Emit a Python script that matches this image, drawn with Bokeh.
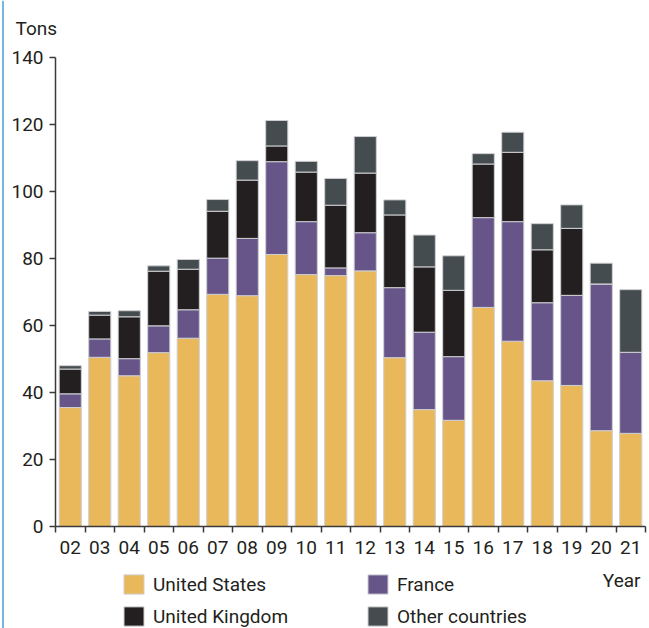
from bokeh.plotting import figure
from bokeh.models import (ColumnDataSource, FixedTicker, Range1d, Legend,
                          LegendItem, Label, Span)
from bokeh.embed import file_html
from bokeh.resources import INLINE

years = ["02", "03", "04", "05", "06", "07", "08", "09", "10", "11",
         "12", "13", "14", "15", "16", "17", "18", "19", "20", "21"]
united_states = [35.5, 50.5, 45.0, 51.9, 56.2, 69.3, 68.9, 81.2, 75.2, 74.9,
                 76.3, 50.4, 34.9, 31.7, 65.4, 55.3, 43.5, 42.1, 28.6, 27.8]
france = [4.1, 5.5, 5.1, 8.0, 8.5, 10.8, 17.1, 27.7, 15.8, 2.3,
          11.4, 20.9, 23.1, 19.0, 26.8, 35.7, 23.3, 26.9, 43.8, 24.2]
united_kingdom = [7.4, 7.1, 12.5, 16.3, 12.1, 14.0, 17.4, 4.7, 14.8, 18.7,
                  17.8, 21.7, 19.5, 19.8, 16.0, 20.7, 15.8, 20.0, 0.0, 0.0]
other_countries = [1.0, 1.1, 1.8, 1.6, 2.9, 3.5, 5.8, 7.6, 3.2, 8.0,
                   10.9, 4.5, 9.5, 10.3, 3.1, 6.0, 7.8, 7.0, 6.2, 18.7]
series_names = ["United States", "France", "United Kingdom", "Other countries"]
y_ticks = [0, 20, 40, 60, 80, 100, 120, 140]

colors = ["#E8B85B", "#67558A", "#231F20", "#444C4F"]
FONT = "Roboto"
FS = "19px"
TXT = "#231F20"
AX = "#3a3a3a"

W, H = 649, 628
# plot area in canvas pixels
left_px, right_px, top_px, bottom_px = 55, 645, 57, 526
n = len(years)
ymax = 140
xu = (right_px - left_px) / n          # px per category
yu = (bottom_px - top_px) / ymax       # px per ton

xs = [i + 0.5 for i in range(n)]
source = ColumnDataSource(dict(x=xs, us=united_states, fr=france,
                               uk=united_kingdom, ot=other_countries))

p = figure(width=W, height=H,
           x_range=Range1d(-left_px / xu, n + (W - right_px) / xu),
           y_range=Range1d(-(H - bottom_px) / yu, ymax + top_px / yu),
           output_backend="svg", toolbar_location=None,
           min_border=0)
p.outline_line_color = None
p.grid.visible = False
p.background_fill_color = "white"
p.border_fill_color = "white"

rs = p.vbar_stack(["us", "fr", "uk", "ot"], x="x", width=0.75, color=colors,
                  line_color="#cfcfd2", line_width=1, source=source)

# x axis
xa = p.xaxis[0]
xa.fixed_location = 0
xa.bounds = (0, n)
xa.ticker = FixedTicker(ticks=xs, minor_ticks=list(range(n + 1)))
xa.major_label_overrides = {x: y for x, y in zip(xs, years)}
xa.major_tick_out = 0
xa.major_tick_in = 0
xa.minor_tick_out = 6
xa.minor_tick_in = 0
xa.minor_tick_line_color = AX
xa.minor_tick_line_width = 1.5
xa.axis_line_color = AX
xa.axis_line_width = 1.5
xa.major_label_text_font = FONT
xa.major_label_text_font_size = FS
xa.major_label_text_color = TXT
xa.major_label_standoff = 8

# y axis
ya = p.yaxis[0]
ya.fixed_location = 0
ya.bounds = (0, ymax)
ya.ticker = FixedTicker(ticks=y_ticks)
ya.minor_tick_line_color = None
ya.major_tick_out = 6
ya.major_tick_in = 0
ya.major_tick_line_color = AX
ya.major_tick_line_width = 1.5
ya.axis_line_color = AX
ya.axis_line_width = 1.5
ya.major_label_text_font = FONT
ya.major_label_text_font_size = FS
ya.major_label_text_color = TXT
ya.major_label_standoff = 6

# frame line at the left edge of the picture
p.add_layout(Span(location=-left_px / xu + 2.5 / xu, dimension="height",
                  line_color="#4a9fd4", line_width=1.5))

# axis titles
p.add_layout(Label(x=0, y=ymax, x_offset=-40, y_offset=29, text="Tons",
                   text_font=FONT, text_font_size=FS, text_color=TXT,
                   text_align="left", text_baseline="middle"))
p.add_layout(Label(x=n, y=0, x_offset=-5, y_offset=-54, text="Year",
                   text_font=FONT, text_font_size=FS, text_color=TXT,
                   text_align="right", text_baseline="middle"))

legend = Legend(items=[LegendItem(label=nm, renderers=[r]) for nm, r in zip(series_names, rs)],
                location=(121, 0), orientation="horizontal", ncols=2,
                glyph_width=25, glyph_height=24, label_standoff=7,
                label_width=204, spacing=8, padding=0, margin=0,
                label_text_font=FONT, label_text_font_size=FS,
                label_text_color=TXT, border_line_color=None,
                background_fill_alpha=0)
p.add_layout(legend, "center")

open("out.html", "w").write(file_html(p, INLINE))
